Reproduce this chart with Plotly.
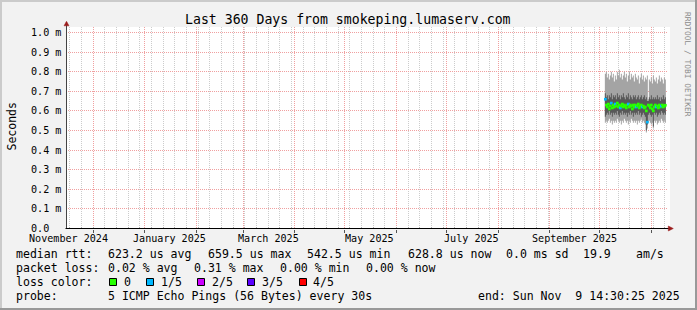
import plotly.graph_objects as go
import pandas as pd

# ---------------- data ----------------
START = pd.Timestamp("2024-11-14 14:30:25")
END = pd.Timestamp("2025-11-09 14:30:25")
COLUMN = pd.Timedelta(minutes=864)          # one consolidated column (14.4 h)

ping1 = [0.54, 0.55, 0.54, 0.55, 0.56, 0.54, 0.55, 0.53, 0.55, 0.54,
         0.55, 0.54, 0.56, 0.55, 0.54, 0.55, 0.53, 0.55, 0.54, 0.56,
         0.55, 0.54, 0.55, 0.53, 0.55, 0.54, 0.56, 0.55, 0.54, 0.55,
         0.54, 0.55, 0.53, 0.55, 0.54, 0.55, 0.56, 0.54, 0.55, 0.54,
         0.53, 0.49, 0.51, 0.54, 0.55, 0.54, 0.53, 0.54, 0.51, 0.55,
         0.54, 0.55, 0.53, 0.54, 0.55, 0.54, 0.56, 0.55, 0.54, 0.55, 0.54]
ping2 = [0.57, 0.58, 0.59, 0.58, 0.60, 0.58, 0.59, 0.57, 0.59, 0.58,
         0.59, 0.58, 0.60, 0.58, 0.57, 0.59, 0.58, 0.60, 0.58, 0.59,
         0.58, 0.59, 0.57, 0.59, 0.58, 0.60, 0.58, 0.59, 0.57, 0.59,
         0.58, 0.59, 0.58, 0.60, 0.58, 0.59, 0.57, 0.58, 0.59, 0.58,
         0.57, 0.50, 0.53, 0.58, 0.59, 0.58, 0.57, 0.58, 0.52, 0.59,
         0.58, 0.59, 0.57, 0.58, 0.59, 0.58, 0.60, 0.59, 0.58, 0.59, 0.58]
median = [0.6595, 0.630, 0.620, 0.635, 0.610, 0.625, 0.640, 0.615, 0.630, 0.620,
          0.635, 0.625, 0.640, 0.620, 0.630, 0.615, 0.625, 0.635, 0.620, 0.630,
          0.625, 0.615, 0.630, 0.635, 0.620, 0.630, 0.625, 0.610, 0.630, 0.620,
          0.630, 0.620, 0.625, 0.635, 0.615, 0.625, 0.630, 0.620, 0.625, 0.615,
          0.620, 0.600, 0.5425, 0.630, 0.625, 0.615, 0.630, 0.610, 0.600, 0.620,
          0.630, 0.620, 0.625, 0.615, 0.630, 0.620, 0.625, 0.630, 0.620, 0.625, 0.6288]
ping4 = [0.69, 0.67, 0.68, 0.66, 0.68, 0.67, 0.69, 0.66, 0.68, 0.67,
         0.68, 0.66, 0.69, 0.67, 0.68, 0.66, 0.68, 0.67, 0.69, 0.67,
         0.66, 0.68, 0.67, 0.69, 0.66, 0.68, 0.67, 0.66, 0.68, 0.67,
         0.68, 0.66, 0.67, 0.68, 0.66, 0.67, 0.68, 0.66, 0.67, 0.68,
         0.66, 0.67, 0.65, 0.65, 0.67, 0.66, 0.68, 0.66, 0.67, 0.66,
         0.67, 0.66, 0.68, 0.66, 0.67, 0.65, 0.67, 0.66, 0.68, 0.66, 0.67]
ping5 = [0.79, 0.80, 0.77, 0.79, 0.76, 0.78, 0.80, 0.77, 0.79, 0.75,
         0.78, 0.76, 0.80, 0.78, 0.81, 0.77, 0.79, 0.76, 0.78, 0.80,
         0.77, 0.79, 0.75, 0.78, 0.80, 0.76, 0.79, 0.77, 0.78, 0.75,
         0.79, 0.77, 0.76, 0.78, 0.74, 0.77, 0.79, 0.76, 0.78, 0.75,
         0.77, 0.76, 0.78, 0.66, 0.76, 0.75, 0.77, 0.74, 0.78, 0.76,
         0.75, 0.77, 0.74, 0.76, 0.78, 0.75, 0.77, 0.76, 0.74, 0.77, 0.76]
loss = [1, 0, 0, 0, 0, 0, 1, 0, 0, 0,
        1, 0, 0, 0, 0, 1, 0, 0, 0, 0,
        0, 0, 0, 1, 0, 0, 0, 0, 0, 0,
        0, 1, 0, 0, 0, 0, 0, 1, 0, 0,
        0, 0, 1, 0, 0, 0, 0, 0, 0, 0,
        0, 1, 0, 0, 0, 0, 1, 0, 0, 0, 0]

LOSS_LABELS = ["0", "1/5", "2/5", "3/5", "4/5"]
LOSS_COLORS = ["#26ff00", "#00b8ff", "#cc00ff", "#5a00ff", "#ff0000"]

Y_TICKS = [0.0, 0.1, 0.2, 0.3, 0.4, 0.5, 0.6, 0.7, 0.8, 0.9, 1.0]
Y_TICKTEXT = ["0.0", "0.1 m", "0.2 m", "0.3 m", "0.4 m", "0.5 m",
              "0.6 m", "0.7 m", "0.8 m", "0.9 m", "1.0 m"]
X_LABEL_MONTHS = ["2024-11-01", "2025-01-01", "2025-03-01",
                  "2025-05-01", "2025-07-01", "2025-09-01"]
X_LABEL_TEXT = ["November 2024", "January 2025", "March 2025",
                "May 2025", "July 2025", "September 2025"]

TITLE = "Last 360 Days from smokeping.lumaserv.com"
LEGEND_ROWS = [
    [(16, "median rtt:"), (107.3, "623.2 us avg"), (207.3, "659.5 us max"),
     (306.3, "542.5 us min"), (407.3, "628.8 us now"), (505.3, "0.0 ms sd"),
     (583, "19.9"), (635.3, "am/s")],
    [(16, "packet loss:"), (107.3, "0.02 % avg"), (193.3, "0.31 % max"),
     (279.3, "0.00 % min"), (365.3, "0.00 % now")],
    [(16, "loss color:")],
    [(16, "probe:"), (107.3, "5 ICMP Echo Pings (56 Bytes) every 30s"),
     (478, "end: Sun Nov\u00a0\u00a09 14:30:25 2025")],
]
LOSS_BOX_X = [109, 146, 197, 247, 299]
LOSS_TEXT_X = [124, 160.7, 211.3, 262, 312.7]
ROW_Y = [254.3, 268.3, 282.3, 296.0]

# ---------------- geometry ----------------
W, H = 697, 310
ML, MR, MT, MB = 66, 29, 27, 81
PW, PH = W - ML - MR, H - MT - MB
PX_PER_DAY = 600 / 360.0
X0_PX = 65.85            # pixel of START
Y0_PX, PX_PER_MS = 228.5, 196.0

x_range = [START + pd.Timedelta(days=(ML - X0_PX) / PX_PER_DAY),
           START + pd.Timedelta(days=(ML + PW - X0_PX) / PX_PER_DAY)]
y_range = [(Y0_PX - (MT + PH)) / PX_PER_MS, (Y0_PX - MT) / PX_PER_MS]


def fx(px):
    return (px - ML) / PW


def fy(py):
    return (MT + PH - py) / PH


FONT = "DejaVu Sans Mono"
n = len(median)
col_start = [END - COLUMN * (n - i) for i in range(n)]
x_step = col_start + [END]
x_mid = [t + COLUMN / 2 for t in col_start]


def closed(v):
    return list(v) + [v[-1]]


NOLINE = dict(width=0, color="rgba(0,0,0,0)", shape="hv")
fig = go.Figure()
# smoke: outer band ping1..ping5, inner band ping2..ping4
fig.add_trace(go.Scatter(x=x_step, y=closed(ping1), mode="lines", line=NOLINE,
                         hoverinfo="skip"))
fig.add_trace(go.Scatter(x=x_step, y=closed(ping5), mode="lines", line=NOLINE,
                         fill="tonexty", fillcolor="#a4a4a4", hoverinfo="skip"))
fig.add_trace(go.Scatter(x=x_step, y=closed(ping2), mode="lines", line=NOLINE,
                         hoverinfo="skip"))
fig.add_trace(go.Scatter(x=x_step, y=closed(ping4), mode="lines", line=NOLINE,
                         fill="tonexty", fillcolor="#585858", hoverinfo="skip"))
# median coloured by loss
fig.add_trace(go.Scatter(x=x_mid, y=median, mode="markers",
                         marker=dict(symbol="square", size=2.7,
                                     color=[LOSS_COLORS[l] for l in loss],
                                     line=dict(width=0)),
                         hoverinfo="skip"))

ann = []
ann.append(dict(text=TITLE, x=fx(348.3), y=fy(20), xanchor="center", yanchor="middle",
                font=dict(family=FONT, size=13.2, color="#000")))
ann.append(dict(text="Seconds", x=fx(11), y=fy(126.5), textangle=-90,
                xanchor="center", yanchor="middle",
                font=dict(family=FONT, size=11.5, color="#000")))
ann.append(dict(text="RRDTOOL / TOBI OETIKER", x=fx(688), y=fy(64), textangle=90,
                xanchor="center", yanchor="middle",
                font=dict(family=FONT, size=7.9, color="#8c8c8c")))
for v, t in zip(Y_TICKS, Y_TICKTEXT):
    ann.append(dict(text=t, xref="paper", yref="y", x=fx(30.1), y=v,
                    xanchor="left", yanchor="middle",
                    font=dict(family=FONT, size=10.1, color="#000")))
for m, t in zip(X_LABEL_MONTHS, X_LABEL_TEXT):
    ann.append(dict(text=t, xref="x", yref="paper",
                    x=pd.Timestamp(m) + pd.Timedelta(days=15), y=fy(238.0),
                    xanchor="center", yanchor="middle",
                    font=dict(family=FONT, size=10.1, color="#000")))
for row, yy in zip(LEGEND_ROWS, ROW_Y):
    for xx, t in row:
        ann.append(dict(text=t, x=fx(xx - 0.6), y=fy(yy), xanchor="left",
                        yanchor="middle",
                        font=dict(family=FONT, size=11.56, color="#000")))
for xx, t in zip(LOSS_TEXT_X, LOSS_LABELS):
    ann.append(dict(text=t, x=fx(xx - 0.6), y=fy(ROW_Y[2]), xanchor="left",
                    yanchor="middle",
                    font=dict(family=FONT, size=11.56, color="#000")))
for a in ann:
    a.setdefault("xref", "paper")
    a.setdefault("yref", "paper")
    a["showarrow"] = False
    a["borderpad"] = 0


def rect(x0, y0, x1, y1, fill, line=None, layer="above"):
    return dict(type="rect", xref="paper", yref="paper",
                x0=fx(x0), x1=fx(x1), y0=fy(y0), y1=fy(y1),
                fillcolor=fill, line=line or dict(width=0), layer=layer)


def seg(x0, y0, x1, y1, color, width=1):
    return dict(type="line", xref="paper", yref="paper",
                x0=fx(x0), x1=fx(x1), y0=fy(y0), y1=fy(y1),
                line=dict(color=color, width=width), layer="above")


def tri(pts, color):
    p = "M " + " L ".join("{} {}".format(fx(a), fy(b)) for a, b in pts) + " Z"
    return dict(type="path", xref="paper", yref="paper", path=p,
                fillcolor=color, line=dict(color=color, width=0.5), layer="above")


shapes = []
# image border shading
shapes.append(rect(0, 0, W, 2, "#cbcbcb"))
shapes.append(rect(0, 0, 2, H, "#cbcbcb"))
shapes.append(rect(0, H - 2, W, H, "#999999"))
shapes.append(rect(W - 2, 0, W, H, "#999999"))
# canvas continues slightly right of the grid
shapes.append(rect(ML + PW, MT, ML + PW + 2, MT + PH, "#ffffff", layer="below"))
# axes with arrows
shapes.append(seg(66.5, 228.5, 66.5, 24.5, "#444444"))
shapes.append(seg(65.5, 228.5, 670, 228.5, "#000000"))
shapes.append(tri([(64.0, 25.8), (69.0, 25.8), (66.5, 21.3)], "#9b1c1c"))
shapes.append(tri([(668.3, 226.0), (668.3, 231.0), (673.3, 228.5)], "#9b1c1c"))
# loss colour boxes
for xx, c in zip(LOSS_BOX_X, LOSS_COLORS):
    shapes.append(rect(xx + 0.5, 278.5, xx + 7.5, 285.5, c,
                       line=dict(color="#000000", width=1)))

DOT = "1px,1px"
fig.update_layout(
    width=W, height=H, autosize=False,
    margin=dict(l=ML, r=MR, t=MT, b=MB, pad=0),
    paper_bgcolor="#f2f2f2", plot_bgcolor="#ffffff",
    showlegend=False, hovermode=False,
    annotations=ann, shapes=shapes,
    xaxis=dict(type="date", range=x_range, showline=False, zeroline=False,
               showticklabels=False,
               dtick="M1", tick0="2024-12-01",
               showgrid=True, gridcolor="#f0a0a0", griddash=DOT, gridwidth=1,
               ticks="outside", ticklen=3, tickcolor="#555555", tickwidth=1,
               minor=dict(dtick=7 * 86400000, tick0="2024-11-17", showgrid=True,
                          gridcolor="#cccccc", griddash=DOT, gridwidth=1,
                          ticks="inside", ticklen=2, tickcolor="#aaaaaa")),
    yaxis=dict(range=y_range, showline=False, zeroline=False,
               showticklabels=False, tick0=0, dtick=0.1,
               showgrid=True, gridcolor="#f0a0a0", griddash=DOT, gridwidth=1,
               ticks=""),
)

fig.write_html("out.html")
